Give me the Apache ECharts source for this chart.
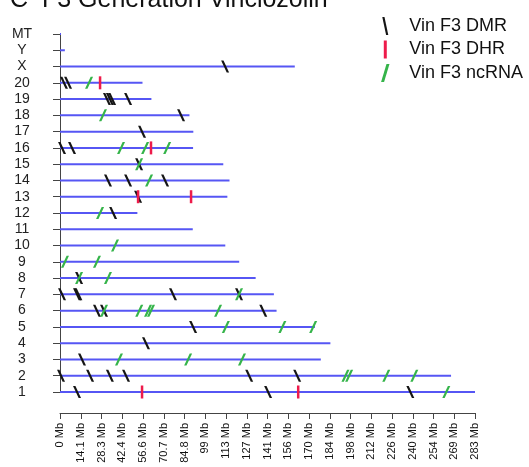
<!DOCTYPE html>
<html>
<head>
<meta charset="utf-8">
<script src="https://cdn.jsdelivr.net/npm/echarts@6/dist/echarts.min.js"></script>
<style>
html,body{margin:0;padding:0;background:#fff;}
#chart{width:529px;height:467px;}
</style>
</head>
<body>
<div id="chart"></div>
<script>
// Chromosomes (bottom to top) and their lengths in Mb
const chromosomes = ['1','2','3','4','5','6','7','8','9','10','11','12','13','14','15','16','17','18','19','20','X','Y','MT'];
const chromLengths = [282.76, 266.44, 177.70, 184.23, 173.71, 147.56, 145.73, 133.31, 122.10, 112.63, 90.46, 52.72, 114.03, 115.49, 111.25, 90.67, 90.84, 88.20, 62.28, 56.21, 159.97, 3.31, 0.016];

// Tick labels of the x axis
const tickLabels = ['0 Mb','14.1 Mb','28.3 Mb','42.4 Mb','56.6 Mb','70.7 Mb','84.8 Mb','99 Mb','113 Mb','127 Mb','141 Mb','156 Mb','170 Mb','184 Mb','198 Mb','212 Mb','226 Mb','240 Mb','254 Mb','269 Mb','283 Mb'];
const tickStep = 14.138;

// Marks: [position in Mb, chromosome]
const dmrMarks = [
  [11.6,'1'],[141.8,'1'],[238.7,'1'],
  [0.7,'2'],[20.5,'2'],[34,'2'],[45,'2'],[128.9,'2'],[161.6,'2'],
  [15,'3'],
  [58.6,'4'],
  [90.7,'5'],
  [25.2,'6'],[30,'6'],[138.5,'6'],
  [1.4,'7'],[11.6,'7'],[12.5,'7'],[77,'7'],[122,'7'],
  [13,'8'],
  [36.2,'12'],
  [53.2,'13'],
  [32.7,'14'],[46.4,'14'],[71.6,'14'],
  [53.9,'15'],
  [1.4,'16'],[8.2,'16'],
  [55.9,'17'],
  [82.5,'18'],
  [32,'19'],[34,'19'],[35.5,'19'],[46.4,'19'],
  [2.7,'20'],[5.5,'20'],
  [112.5,'X']
];
const ncrnaMarks = [
  [263.2,'1'],
  [194.5,'2'],[197,'2'],[222.3,'2'],[241.4,'2'],
  [40.2,'3'],[87.3,'3'],[124,'3'],
  [113,'5'],[151.5,'5'],[172.5,'5'],
  [30,'6'],[54,'6'],[60,'6'],[62,'6'],[107.7,'6'],
  [122,'7'],
  [13,'8'],[32.7,'8'],
  [3.4,'9'],[25.2,'9'],
  [37.5,'10'],
  [27.3,'12'],
  [60.7,'14'],
  [53.9,'15'],
  [41.6,'16'],[58,'16'],[73,'16'],
  [29.3,'18'],
  [19.8,'20']
];
const dhrMarks = [
  [55.9,'1'],[162.3,'1'],
  [53.2,'13'],[89.3,'13'],
  [62,'16'],
  [27.3,'20']
];

const seriesNames = ['Vin F3 DMR','Vin F3 DHR','Vin F3 ncRNA'];
const titleText = 'C  F3 Generation Vinclozolin';

const backslash = 'path://M0,0 L3,0 L10,14 L7,14 Z';
const slash = 'path://M7,0 L10,0 L3,14 L0,14 Z';
const legendBackslash = 'path://M0,0 L2.2,0 L6,18 L3.8,18 Z';
const legendSlash = 'path://M4.5,0 L7,0 L2.5,15 L0,15 Z';
const bar = 'path://M0,0 L1,0 L1,6 L0,6 Z';

const chart = echarts.init(document.getElementById('chart'), null, {renderer:'canvas'});
const option = {
  animation:false,
  backgroundColor:'#fff',
  title:{
    text:titleText, left:5, top:-17,
    textStyle:{fontFamily:'Liberation Sans', fontSize:25, fontWeight:'normal', color:'#111'}
  },
  legend:{
    orient:'vertical', right:6, top:17, padding:0,
    itemWidth:38, itemHeight:18, itemGap:5.5,
    textStyle:{fontFamily:'Liberation Sans', fontSize:18, color:'#111'},
    data:[
      {name:seriesNames[0], icon:legendBackslash},
      {name:seriesNames[1], icon:bar},
      {name:seriesNames[2], icon:legendSlash}
    ]
  },
  grid:{left:60, right:54, top:34, bottom:75},
  xAxis:{
    type:'value', min:0, max:282.76, interval:tickStep, offset:21,
    splitLine:{show:false},
    axisLine:{show:true, lineStyle:{color:'#444', width:1}},
    axisTick:{show:true, length:6, lineStyle:{color:'#444'}},
    axisLabel:{
      rotate:90, margin:10, fontFamily:'Liberation Sans', fontSize:11, color:'#111',
      formatter:function(v){ return tickLabels[Math.round(v/tickStep)]; }
    }
  },
  yAxis:{
    type:'category', data:chromosomes, boundaryGap:false, offset:17,
    splitLine:{show:false},
    axisLine:{show:true, lineStyle:{color:'#444', width:1}},
    axisTick:{show:true, length:7, alignWithLabel:true, lineStyle:{color:'#444'}},
    axisLabel:{margin:21, align:'center', fontFamily:'Liberation Sans', fontSize:14, color:'#222', interval:0}
  },
  series:[
    {
      type:'custom', name:'chromosomes', silent:true,
      data:chromosomes.map((c,i)=>[chromLengths[i], c]),
      encode:{x:0, y:1},
      renderItem:function(params, api){
        const y = api.value(1);
        const s = api.coord([0, y]);
        const e = api.coord([api.value(0), y]);
        return {type:'line', shape:{x1:s[0], y1:s[1], x2:Math.max(e[0], s[0]+1), y2:e[1]},
          style:{stroke:'#5656f4', lineWidth:2}};
      },
      z:1
    },
    {
      type:'scatter', name:seriesNames[0], data:dmrMarks,
      symbol:backslash, symbolSize:[8,12],
      itemStyle:{color:'#151515', opacity:1}, z:3
    },
    {
      type:'scatter', name:seriesNames[2], data:ncrnaMarks,
      symbol:slash, symbolSize:[8,12],
      itemStyle:{color:'#35b44a', opacity:1}, z:4
    },
    {
      type:'scatter', name:seriesNames[1], data:dhrMarks,
      symbol:bar, symbolSize:[2.5,13],
      itemStyle:{color:'#ee1b4b', opacity:1}, z:5
    }
  ]
};
chart.setOption(option);
</script>
</body>
</html>
